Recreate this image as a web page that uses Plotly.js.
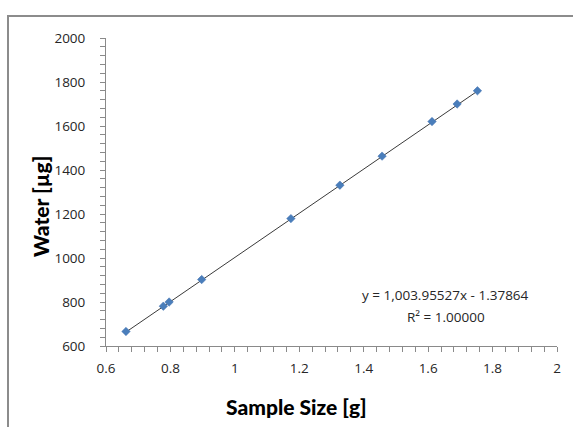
<!DOCTYPE html>
<html>
<head>
<meta charset="utf-8">
<script src="https://cdn.plot.ly/plotly-3.0.1.min.js"></script>
<style>
  html, body { margin: 0; padding: 0; background: #ffffff; }
  #chart { width: 573px; height: 427px; }
</style>
</head>
<body>
<div id="chart"></div>
<script>
// Data
const sampleSize = [0.662, 0.778, 0.796, 0.897, 1.174, 1.326, 1.457, 1.612, 1.690, 1.753];
const water = [666, 781, 800, 902, 1179, 1331, 1463, 1620, 1700, 1760];

// Trendline coefficients as printed on the chart
const slope = 1003.95527;
const intercept = -1.37864;
const equationText = "y = 1,003.95527x - 1.37864";
const r2Text = "R² = 1.00000";

const xTitle = "Sample Size [g]";
const yTitle = "Water [µg]";

const xMin = Math.min(...sampleSize);
const xMax = Math.max(...sampleSize);
const trendX = [xMin, xMax];
const trendY = trendX.map(v => slope * v + intercept);

const tickFont = { family: "Open Sans, Liberation Sans, sans-serif", size: 13.5, color: "#262626" };
const titleFont = { family: "Lato, Roboto, sans-serif", size: 21, color: "#000000", weight: 900 };

const data = [
  {
    x: trendX, y: trendY, type: "scatter", mode: "lines",
    line: { color: "#3a3a3a", width: 1 }, hoverinfo: "skip", showlegend: false
  },
  {
    x: sampleSize, y: water, type: "scatter", mode: "markers",
    marker: { symbol: "diamond", size: 6.5, color: "#4a7ebb", line: { color: "#3f6fae", width: 0.5 } },
    showlegend: false
  }
];

const L = 106, R = 16, T = 38, B = 81;
const W = 573, H = 427;
const pw = W - L - R, ph = H - T - B;
const px = x => (x - L) / pw;
const py = y => (H - B - y) / ph;

const layout = {
  width: W, height: H,
  margin: { l: L, r: R, t: T, b: B, pad: 0 },
  paper_bgcolor: "#ffffff",
  plot_bgcolor: "#ffffff",
  showlegend: false,
  xaxis: {
    range: [0.6, 2], dtick: 0.2, tick0: 0.6,
    showgrid: false, zeroline: false,
    showline: true, linecolor: "#8a8a8a", linewidth: 1,
    ticks: "outside", ticklen: 5, tickcolor: "#8a8a8a", tickwidth: 1,
    minor: { dtick: 0.04, ticks: "outside", ticklen: 5, tickcolor: "#8a8a8a", showgrid: false },
    tickfont: tickFont, ticklabelstandoff: 5,
    fixedrange: true
  },
  yaxis: {
    range: [600, 2000], dtick: 200, tick0: 600,
    showgrid: false, zeroline: false,
    showline: true, linecolor: "#8a8a8a", linewidth: 1,
    ticks: "outside", ticklen: 5, tickcolor: "#8a8a8a", tickwidth: 1,
    minor: { dtick: 40, ticks: "outside", ticklen: 5, tickcolor: "#8a8a8a", showgrid: false },
    tickfont: tickFont, ticklabelstandoff: 12,
    fixedrange: true
  },
  shapes: [
    {
      type: "path", xref: "paper", yref: "paper",
      path: `M ${px(8)} ${py(430)} L ${px(8)} ${py(16)} L ${px(580)} ${py(16)}`,
      line: { color: "#8c8c8c", width: 2 }
    }
  ],
  annotations: [
    {
      text: xTitle, xref: "paper", yref: "paper",
      x: px(296), y: py(406), xanchor: "center", yanchor: "middle",
      showarrow: false, font: titleFont
    },
    {
      text: yTitle, xref: "paper", yref: "paper",
      x: px(40), y: py(207), xanchor: "center", yanchor: "middle",
      textangle: -90, showarrow: false, font: titleFont
    },
    {
      text: equationText, xref: "paper", yref: "paper",
      x: px(445), y: py(295), xanchor: "center", yanchor: "middle",
      showarrow: false, font: tickFont
    },
    {
      text: r2Text, xref: "paper", yref: "paper",
      x: px(446), y: py(317), xanchor: "center", yanchor: "middle",
      showarrow: false, font: tickFont
    }
  ]
};

Plotly.newPlot("chart", data, layout, { displayModeBar: false, staticPlot: true });
</script>
</body>
</html>
